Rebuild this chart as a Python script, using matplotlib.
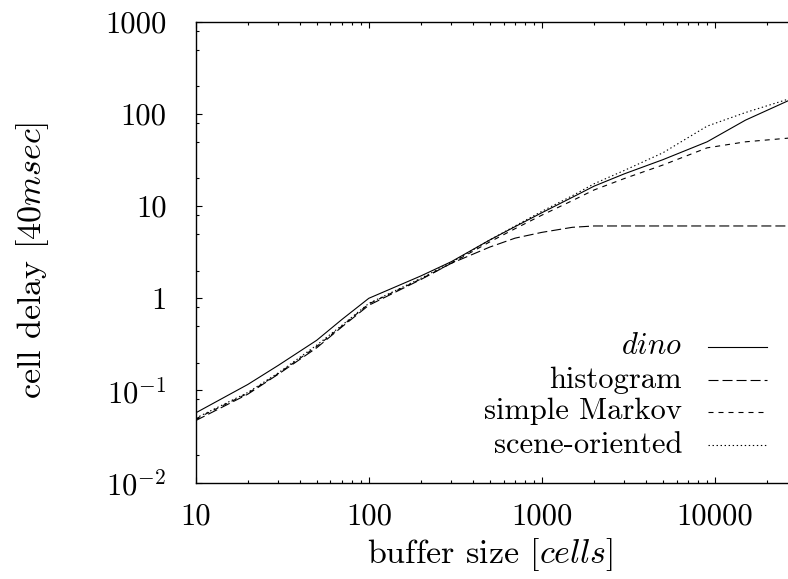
import matplotlib
matplotlib.use("Agg")
import matplotlib.pyplot as plt
from matplotlib.ticker import LogLocator, FixedLocator, FixedFormatter, NullFormatter
from matplotlib.lines import Line2D

plt.rcParams["font.family"] = "cmr10"
plt.rcParams["mathtext.fontset"] = "cm"
plt.rcParams["axes.unicode_minus"] = False
plt.rcParams["lines.scale_dashes"] = False

# buffer size [cells]
buffer_size = [10, 20, 30, 50, 70, 100, 200, 300, 500, 700, 1000, 1500, 2000,
               3000, 5000, 9000, 15000, 27000]

# cell delay [40 msec] per model
dino = [0.057, 0.116, 0.187, 0.35, 0.59, 1.0, 1.75, 2.5, 4.3, 6.0, 8.5, 12.5,
        16.5, 22.5, 32.0, 50.0, 86.0, 142.0]
histogram = [0.047, 0.091, 0.15, 0.29, 0.49, 0.84, 1.6, 2.4, 3.6, 4.5, 5.2, 5.9,
             6.1, 6.1, 6.1, 6.1, 6.1, 6.1]
simple_markov = [0.049, 0.093, 0.152, 0.3, 0.5, 0.87, 1.62, 2.4, 4.1, 5.7, 8.0,
                 11.5, 15.0, 20.0, 28.0, 43.0, 50.0, 55.0]
scene_oriented = [0.05, 0.095, 0.155, 0.31, 0.51, 0.88, 1.65, 2.45, 4.3, 6.1, 8.8,
                  13.0, 17.5, 24.5, 38.0, 74.0, 104.0, 147.0]

series_names = ["$dino$", "histogram", "simple Markov", "scene-oriented"]
series_values = [dino, histogram, simple_markov, scene_oriented]
series_dashes = [None, (7.2, 2.9), (3.6, 3.6), (1.0, 1.9)]

y_ticks = [0.01, 0.1, 1, 10, 100, 1000]
y_tick_labels = ["$10^{-2}$", "$10^{-1}$", "1", "10", "100", "1000"]
x_ticks = [10, 100, 1000, 10000]
x_tick_labels = ["10", "100", "1000", "10000"]

W, H = 788, 579
fig = plt.figure(figsize=(W / 100, H / 100), dpi=100)
# right edge of the frame lies just past the picture, as in the original
ax = fig.add_axes([195.7 / W, (H - 482.5) / H, (797.6 - 195.7) / W, 460.5 / H])

for vals, dash in zip(series_values, series_dashes):
    ln, = ax.plot(buffer_size, vals, color="black", lw=0.8)
    if dash is not None:
        ln.set_dashes(dash)

ax.set_xscale("log")
ax.set_yscale("log")
ax.set_xlim(10, 30000)
ax.set_ylim(0.01, 1000)

ax.xaxis.set_major_locator(FixedLocator(x_ticks))
ax.xaxis.set_major_formatter(FixedFormatter(x_tick_labels))
ax.xaxis.set_minor_locator(LogLocator(base=10, subs=range(2, 10), numticks=20))
ax.xaxis.set_minor_formatter(NullFormatter())
ax.yaxis.set_major_locator(FixedLocator(y_ticks))
ax.yaxis.set_major_formatter(FixedFormatter(y_tick_labels))
ax.yaxis.set_minor_locator(LogLocator(base=10, subs=(2, 5, 8), numticks=20))
ax.yaxis.set_minor_formatter(NullFormatter())

ax.tick_params(which="both", direction="in", top=True, right=True, width=0.8)
ax.tick_params(which="major", length=4.5, labelsize=22)
ax.tick_params(which="minor", length=2.2)
ax.tick_params(axis="x", which="major", pad=15)
ax.tick_params(axis="y", which="major", pad=21)
for sp in ax.spines.values():
    sp.set_linewidth(1.0)

fig.text(490 / W, 1 - 555 / H, "buffer size [$cells$]", fontsize=24.5,
         ha="center", va="center")
fig.text(33 / W, 1 - 260 / H, "cell delay [$40msec$]", fontsize=24.5,
         ha="center", va="center", rotation=90)

# key: label right-aligned, line sample to the right
row_y = [346.7, 380.0, 411.7, 445.0]
for name, dash, ry in zip(series_names, series_dashes, row_y):
    fy = 1 - ry / H
    fig.text(682 / W, fy, name, fontsize=22, ha="right", va="center")
    key = Line2D([708 / W, 767 / W], [fy, fy], transform=fig.transFigure,
                 color="black", lw=0.8)
    if dash is not None:
        key.set_dashes(dash)
    fig.add_artist(key)

fig.savefig("out.png", dpi=100)
